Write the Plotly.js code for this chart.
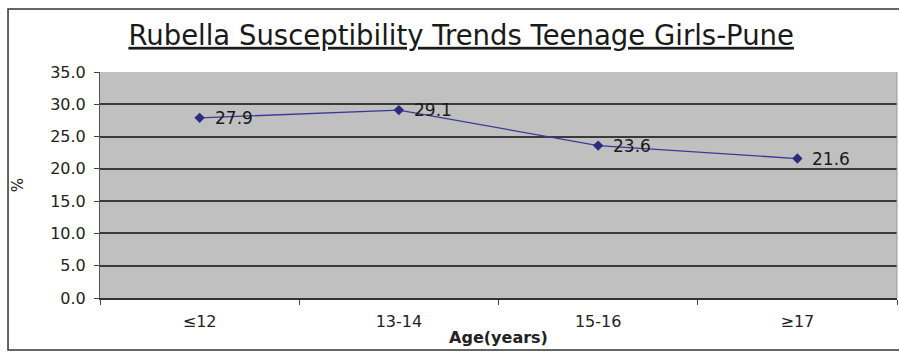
<!DOCTYPE html>
<html>
<head>
<meta charset="utf-8">
<script src="https://cdn.plot.ly/plotly-3.0.1.min.js"></script>
<style>
  html, body { margin: 0; padding: 0; background: #ffffff; }
  #chart { width: 899px; height: 352px; }
</style>
</head>
<body>
<div id="chart"></div>
<script>
// Age groups and the share of girls susceptible to rubella (%)
const ageGroups = ['≤12', '13-14', '15-16', '≥17'];
const susceptible = [27.9, 29.1, 23.6, 21.6];
const yTicks = [0, 5, 10, 15, 20, 25, 30, 35];

const font = 'DejaVu Sans, Arial, sans-serif';

const trace = {
  type: 'scatter',
  mode: 'lines+markers',
  x: ageGroups,
  y: susceptible,
  line: { color: '#3a3a96', width: 1.3 },
  marker: { symbol: 'diamond', size: 8, color: '#2b2b80' },
  hoverinfo: 'x+y'
};

// value labels to the right of each point
const labels = ageGroups.map((g, i) => ({
  x: g, y: susceptible[i], xref: 'x', yref: 'y',
  text: susceptible[i].toFixed(1),
  showarrow: false, xanchor: 'left', yanchor: 'middle',
  xshift: 13, yshift: 0,
  font: { family: font, size: 17, color: '#1a1a1a' }
}));

const layout = {
  width: 899, height: 352,
  margin: { l: 100, r: 2, t: 72, b: 54 },
  paper_bgcolor: '#ffffff',
  plot_bgcolor: '#c0c0c0',
  showlegend: false,
  title: {
    text: '<u>Rubella Susceptibility Trends Teenage Girls-Pune</u>',
    font: { family: font, size: 27.5, color: '#1a1a1a' },
    x: 0.513, xanchor: 'center', y: 0.9, yanchor: 'middle', yref: 'container'
  },
  xaxis: {
    type: 'category',
    tickson: 'boundaries',
    ticks: 'outside', ticklen: 5, tickcolor: '#444',
    ticklabelstandoff: 8,
    showgrid: false, zeroline: false,
    showline: true, linecolor: '#333', linewidth: 1.5,
    tickfont: { family: font, size: 16, color: '#222' },
    title: { text: '<b>Age(years)</b>', font: { family: font, size: 16, color: '#222' }, standoff: 2 },
    range: [-0.5, 3.5]
  },
  yaxis: {
    range: [0, 35],
    tickvals: yTicks,
    ticktext: yTicks.map(v => v.toFixed(1)),
    ticks: 'outside', ticklen: 5, tickcolor: '#444',
    ticklabelstandoff: 5,
    showgrid: true, gridcolor: '#3a3a3a', gridwidth: 2,
    zeroline: false,
    showline: true, linecolor: '#555', linewidth: 1,
    tickfont: { family: font, size: 16, color: '#222' },
    title: { text: '%', font: { family: font, size: 15, color: '#222' }, standoff: 22 }
  },
  shapes: [
    // outer chart frame
    { type: 'rect', xref: 'paper', yref: 'paper',
      x0: -0.1154, x1: 1.02, y0: -0.23, y1: 1.279,
      line: { color: '#333', width: 1.5 }, fillcolor: 'rgba(0,0,0,0)', layer: 'below' },
    // light border on the right of the plotting area
    { type: 'line', xref: 'paper', yref: 'paper', x0: 1, x1: 1, y0: 0, y1: 1,
      line: { color: '#9a9a9a', width: 1 } }
  ],
  annotations: labels
};

Plotly.newPlot('chart', [trace], layout, { staticPlot: true, displayModeBar: false });
</script>
</body>
</html>
